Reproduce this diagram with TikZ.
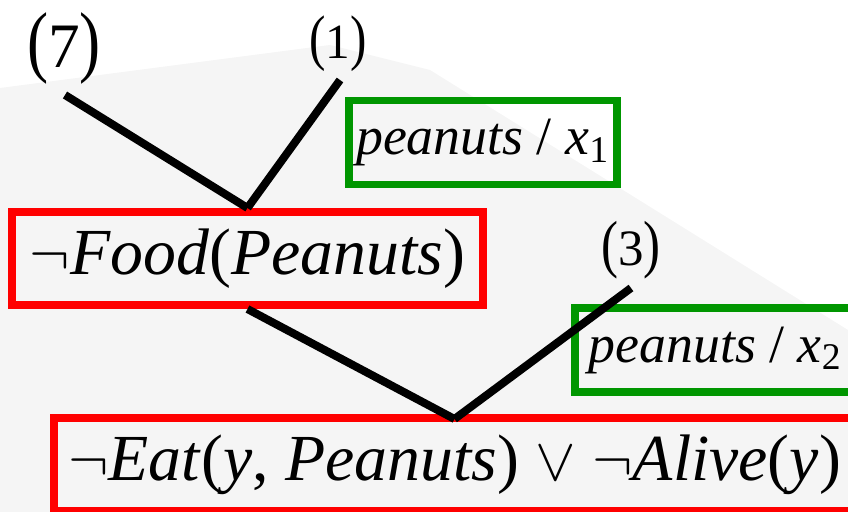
\documentclass[tikz,border=0pt]{standalone}
\usepackage{amsmath,amssymb}
\usepackage{fontspec}
\setmainfont{Liberation Serif}
\usetikzlibrary{positioning}

\definecolor{clausered}{RGB}{255,0,0}
\definecolor{substgreen}{RGB}{0,150,0}

% step number with tall parentheses
\newcommand{\stepnum}[1]{\scalebox{1}[1.25]{(}#1\scalebox{1}[1.25]{)}}

\tikzset{
  clause/.style={draw=clausered, line width=0.08cm, minimum height=0.93cm, inner sep=0pt,
    font=\fontsize{18.7}{20}\selectfont},
  subst/.style={draw=substgreen, line width=0.075cm, minimum height=0.84cm, inner sep=0pt,
    font=\fontsize{15.3}{18}\selectfont},
  branch/.style={black, line width=0.08cm},
}

\begin{document}
\begin{tikzpicture}[x=0.01cm,y=-0.01cm]
\useasboundingbox (0,0) rectangle (848,512);
% faded photo behind
\fill[black!4] (0,88) -- (330,45) -- (430,70) -- (848,330) -- (848,512) -- (0,512) -- cycle;

% clauses
\node[clause, minimum width=4.71cm] (food) at (247.5,258.5) {$\neg$\textit{Food}(\textit{Peanuts})};
\node[clause, minimum width=8.2cm] (eat) at (464,464.5) {\hspace*{-0.19cm}$\neg$\textit{Eat}(\textit{y}, \textit{Peanuts}) $\vee$ $\neg$\textit{Alive}(\textit{y})};

% substitutions
\node[subst, minimum width=2.68cm] (sub1) at (483,142.5) {\textit{peanuts} / \textit{x}\textsubscript{1}};
\node[subst, minimum width=2.95cm] (sub2) at (722.5,350) {\hspace*{-0.14cm}\textit{peanuts} / \textit{x}\textsubscript{2}};

% step numbers
\node[font=\fontsize{18}{20}\selectfont] (n7) at (64,48) {\stepnum{7}};
\node[font=\fontsize{14}{16}\selectfont] (n1) at (338,44) {\stepnum{1}};
\node[font=\fontsize{14.5}{16}\selectfont] (n3) at (631,250) {\stepnum{3}};

% branches
\coordinate (b7) at (65,95);
\coordinate (b1) at (340,80);
\coordinate (b3) at (631,288);
\coordinate (m2) at (454.5,419);
\draw[branch] (b7) -- (food.north);
\draw[branch] (b1) -- (food.north);
\draw[branch] (food.south) -- (m2);
\draw[branch] (b3) -- (m2);
\end{tikzpicture}
\end{document}
